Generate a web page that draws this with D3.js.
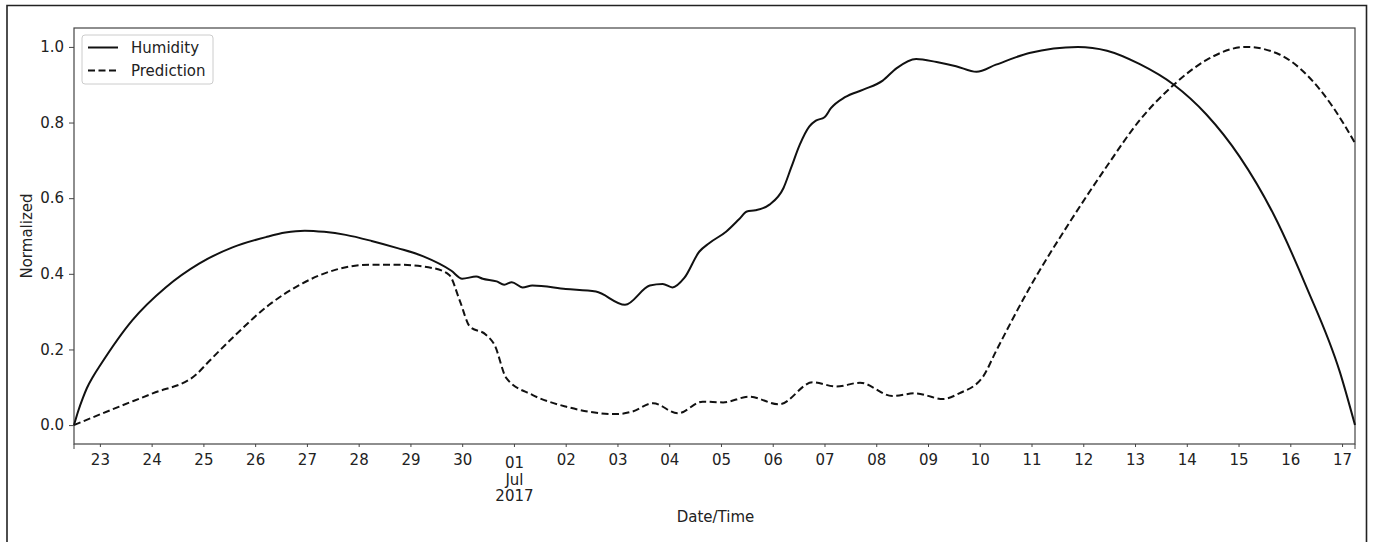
<!DOCTYPE html>
<html>
<head>
<meta charset="utf-8">
<script src="https://cdn.jsdelivr.net/npm/d3@7/dist/d3.min.js"></script>
<style>
  html, body { margin: 0; padding: 0; background: #fff; }
  svg { display: block; }
  text { font-family: "DejaVu Sans", sans-serif; fill: #222; }
</style>
</head>
<body>
<svg id="chart" width="1373" height="542"></svg>
<script>
// Observed humidity, normalized to 0..1
const humidityTimes = [
  "2017-06-22 12:00","2017-06-22 14:00","2017-06-22 16:00","2017-06-22 18:00",
  "2017-06-22 21:00","2017-06-23 00:00","2017-06-23 15:00","2017-06-24 06:30",
  "2017-06-24 22:00","2017-06-25 13:30","2017-06-26 05:00","2017-06-26 14:00",
  "2017-06-26 23:00","2017-06-27 08:00","2017-06-27 18:00","2017-06-28 06:00",
  "2017-06-28 18:00","2017-06-29 06:00","2017-06-29 19:00","2017-06-30 00:00",
  "2017-06-30 06:30","2017-06-30 09:30","2017-06-30 16:00","2017-06-30 19:30",
  "2017-06-30 23:00","2017-07-01 04:00","2017-07-01 08:30","2017-07-02 00:00",
  "2017-07-02 14:00","2017-07-03 03:30","2017-07-03 15:00","2017-07-03 21:00",
  "2017-07-04 01:30","2017-07-04 07:00","2017-07-04 14:00","2017-07-04 18:30",
  "2017-07-05 02:30","2017-07-05 08:30","2017-07-05 12:00","2017-07-05 16:00",
  "2017-07-05 22:30","2017-07-06 05:00","2017-07-06 08:30","2017-07-06 12:30",
  "2017-07-06 17:00","2017-07-06 20:00","2017-07-07 00:00","2017-07-07 03:00",
  "2017-07-07 09:30","2017-07-07 18:00","2017-07-08 03:00","2017-07-08 09:30",
  "2017-07-08 18:30","2017-07-09 04:00","2017-07-09 13:00","2017-07-09 22:30",
  "2017-07-10 07:30","2017-07-10 23:00","2017-07-11 21:30","2017-07-12 11:00",
  "2017-07-13 02:00","2017-07-13 18:00","2017-07-14 09:00","2017-07-15 00:30",
  "2017-07-15 16:00","2017-07-16 07:30","2017-07-16 23:00","2017-07-17 06:00"
];
const humidityValues = [
  0.000, 0.038, 0.070, 0.098,
  0.130, 0.157, 0.277, 0.364,
  0.427, 0.470, 0.497, 0.509,
  0.514, 0.511, 0.503, 0.487,
  0.468, 0.446, 0.408, 0.387,
  0.393, 0.387, 0.380, 0.371,
  0.378, 0.364, 0.369, 0.360,
  0.353, 0.318, 0.369, 0.373,
  0.364, 0.389, 0.459, 0.481,
  0.512, 0.545, 0.565, 0.568,
  0.583, 0.627, 0.680, 0.741,
  0.790, 0.805, 0.814, 0.838,
  0.867, 0.887, 0.911, 0.944,
  0.968, 0.960, 0.949, 0.934,
  0.953, 0.984, 1.000, 0.990,
  0.955, 0.900, 0.822, 0.710,
  0.560, 0.365, 0.140, 0.000
];

// Model prediction, normalized to 0..1
const predictionTimes = [
  "2017-06-22 12:00","2017-06-23 09:00","2017-06-24 00:30","2017-06-24 20:30",
  "2017-06-25 02:30","2017-06-25 15:00","2017-06-26 06:30","2017-06-26 22:00",
  "2017-06-27 13:30","2017-06-28 05:00","2017-06-28 19:00","2017-06-29 10:30",
  "2017-06-29 18:00","2017-06-29 23:00","2017-06-30 03:30","2017-06-30 11:00",
  "2017-06-30 15:00","2017-06-30 20:30","2017-07-01 08:30","2017-07-02 00:00",
  "2017-07-02 23:30","2017-07-03 07:00","2017-07-03 16:30","2017-07-04 04:00",
  "2017-07-04 15:30","2017-07-05 01:00","2017-07-05 13:00","2017-07-06 03:00",
  "2017-07-06 18:30","2017-07-07 05:30","2017-07-07 16:30","2017-07-08 07:30",
  "2017-07-08 18:00","2017-07-09 07:00","2017-07-09 14:30","2017-07-10 01:30",
  "2017-07-10 07:30","2017-07-10 23:00","2017-07-11 18:00","2017-07-12 11:00",
  "2017-07-13 02:00","2017-07-13 18:00","2017-07-14 09:00","2017-07-15 03:30",
  "2017-07-15 19:00","2017-07-16 07:30","2017-07-16 20:00","2017-07-17 06:00"
];
const predictionValues = [
  0.000, 0.049, 0.084, 0.133,
  0.168, 0.239, 0.318, 0.375,
  0.411, 0.424, 0.424, 0.415,
  0.397, 0.327, 0.261, 0.239,
  0.212, 0.124, 0.080, 0.049,
  0.029, 0.036, 0.058, 0.031,
  0.062, 0.060, 0.075, 0.055,
  0.113, 0.102, 0.112, 0.077,
  0.084, 0.069, 0.084, 0.128,
  0.195, 0.362, 0.539, 0.685,
  0.805, 0.900, 0.965, 1.000,
  0.980, 0.927, 0.839, 0.746
];

const yTicks = [0.0, 0.2, 0.4, 0.6, 0.8, 1.0];
const seriesNames = ["Humidity", "Prediction"];

const parse = d3.timeParse("%Y-%m-%d %H:%M");
const humidity = humidityTimes.map((t, i) => ({ t: parse(t), v: humidityValues[i] }));
const prediction = predictionTimes.map((t, i) => ({ t: parse(t), v: predictionValues[i] }));

const svg = d3.select("#chart");
const plot = { left: 74, right: 1355, top: 28, bottom: 444 };

// Figure frame
svg.append("path")
  .attr("d", "M7,545 V5.5 H1366.5 V545")
  .attr("fill", "none").attr("stroke", "#222").attr("stroke-width", 1.6);

const x = d3.scaleTime()
  .domain([humidity[0].t, humidity[humidity.length - 1].t])
  .range([plot.left, plot.right]);
const y = d3.scaleLinear()
  .domain([-0.05, 1.05])
  .range([plot.bottom, plot.top]);

// Axes
const yAxis = svg.append("g")
  .attr("transform", `translate(${plot.left},0)`)
  .call(d3.axisLeft(y).tickValues(yTicks).tickFormat(d3.format(".1f")).tickSize(5).tickPadding(5));
yAxis.select(".domain").remove();
yAxis.selectAll("line").attr("stroke", "#444");
yAxis.selectAll("text").attr("font-size", 15).style("font-family", "DejaVu Sans, sans-serif").attr("fill", "#222");

const dayTicks = d3.timeDay.range(d3.timeDay.ceil(x.domain()[0]), x.domain()[1]);
const xAxis = svg.append("g")
  .attr("transform", `translate(0,${plot.bottom})`)
  .call(d3.axisBottom(x).tickValues(dayTicks).tickFormat("").tickSize(3));
xAxis.select(".domain").remove();
xAxis.selectAll("line").attr("stroke", "#444");

// Day labels; the first of the month also carries month and year
const fmtDay = d3.timeFormat("%d");
const fmtMonth = d3.timeFormat("%b");
const fmtYear = d3.timeFormat("%Y");
xAxis.selectAll(".tick").each(function(d) {
  const g = d3.select(this);
  const first = d.getDate() === 1;
  const txt = g.append("text")
    .attr("text-anchor", "middle")
    .attr("font-size", 15)
    .attr("y", first ? 24 : 21);
  txt.append("tspan").attr("x", 0).text(fmtDay(d));
  if (first) {
    txt.append("tspan").attr("x", 0).attr("dy", 16.5).text(fmtMonth(d));
    txt.append("tspan").attr("x", 0).attr("dy", 16.5).text(fmtYear(d));
  }
});

// Longer ticks at both ends of the time range
svg.append("g").selectAll("line")
  .data(x.domain())
  .join("line")
  .attr("x1", d => x(d)).attr("x2", d => x(d))
  .attr("y1", plot.bottom).attr("y2", plot.bottom + 5)
  .attr("stroke", "#444");

// Plot frame
svg.append("rect")
  .attr("x", plot.left).attr("y", plot.top)
  .attr("width", plot.right - plot.left).attr("height", plot.bottom - plot.top)
  .attr("fill", "none").attr("stroke", "#444").attr("stroke-width", 1.2);

// Series lines
const line = d3.line()
  .x(d => x(d.t))
  .y(d => y(d.v))
  .curve(d3.curveMonotoneX);

svg.append("path")
  .datum(humidity)
  .attr("d", line)
  .attr("fill", "none").attr("stroke", "#111").attr("stroke-width", 2);

svg.append("path")
  .datum(prediction)
  .attr("d", line)
  .attr("fill", "none").attr("stroke", "#111").attr("stroke-width", 2)
  .attr("stroke-dasharray", "7,3.5");

// Axis titles
svg.append("text")
  .attr("x", (plot.left + plot.right) / 2 + 1).attr("y", 522)
  .attr("text-anchor", "middle").attr("font-size", 15)
  .text("Date/Time");
svg.append("text")
  .attr("transform", `translate(32,${(plot.top + plot.bottom) / 2}) rotate(-90)`)
  .attr("text-anchor", "middle").attr("font-size", 15)
  .text("Normalized");

// Legend
const legend = svg.append("g").attr("transform", "translate(82,35)");
legend.append("rect")
  .attr("width", 131).attr("height", 49).attr("rx", 3)
  .attr("fill", "#fff").attr("fill-opacity", 0.8)
  .attr("stroke", "#ccc");
seriesNames.forEach((name, i) => {
  const cy = 12.5 + i * 23;
  legend.append("line")
    .attr("x1", 6).attr("x2", 36).attr("y1", cy).attr("y2", cy)
    .attr("stroke", "#111").attr("stroke-width", 2)
    .attr("stroke-dasharray", i === 1 ? "7,3.5" : null);
  legend.append("text")
    .attr("x", 49).attr("y", cy).attr("dy", "0.35em")
    .attr("font-size", 15)
    .text(name);
});
</script>
</body>
</html>
